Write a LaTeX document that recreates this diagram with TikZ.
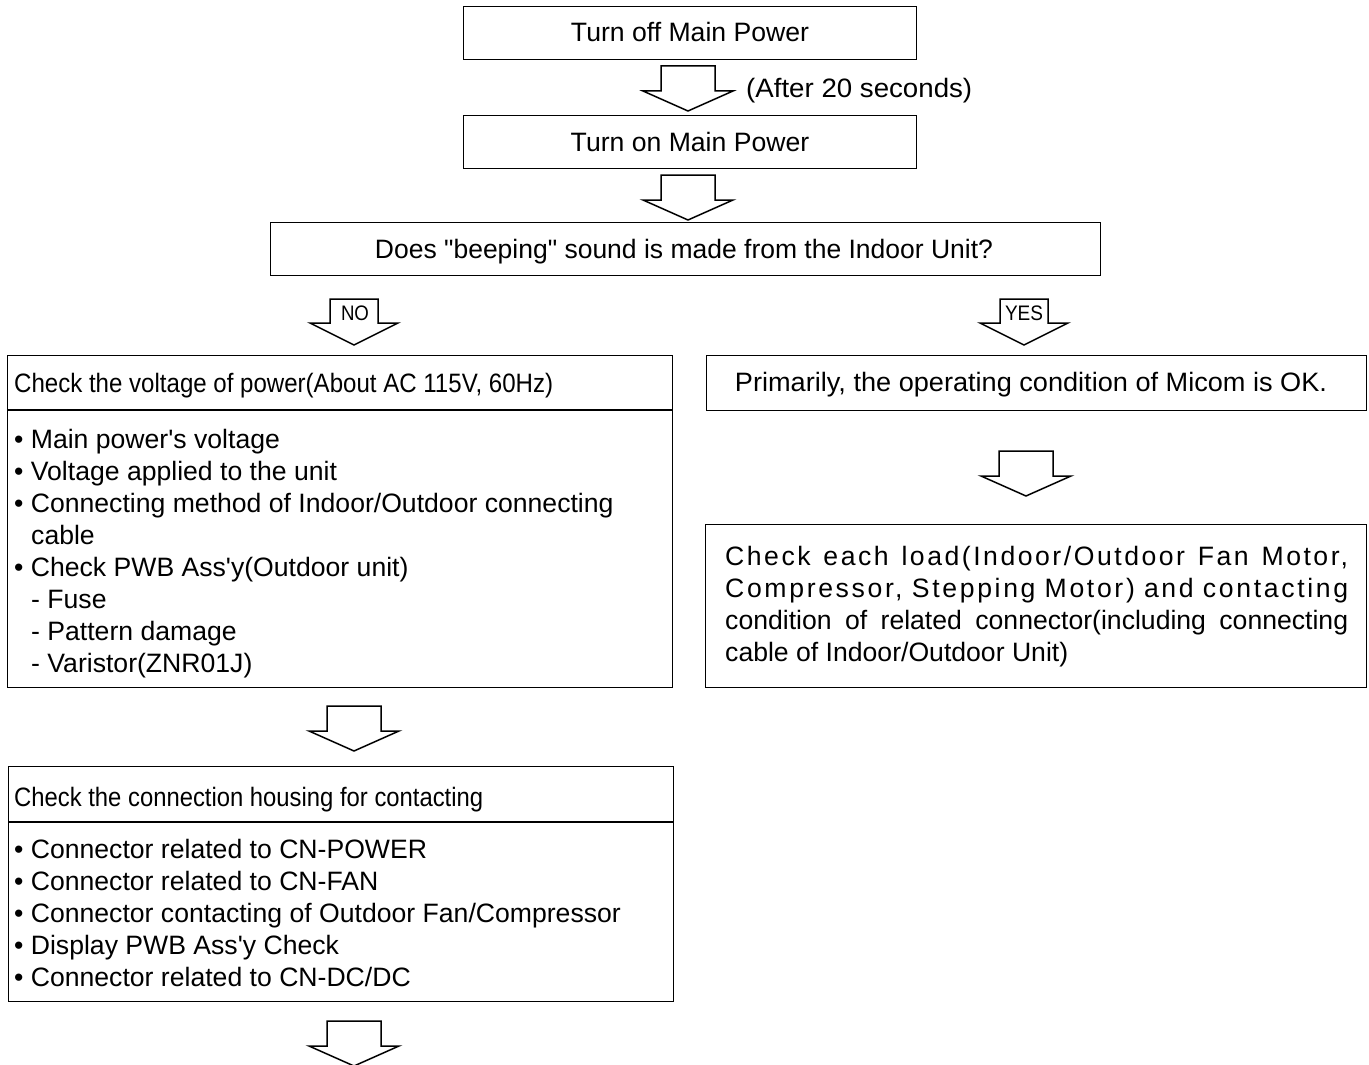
\documentclass[tikz,border=0pt]{standalone}
\usepackage{fontspec}
\setmainfont{Liberation Sans}
\usepackage{graphicx}
\newcommand\ap{\textquotesingle}
\newcommand\fitw[2]{\resizebox{#1}{\height}{#2}}
\begin{document}
\begin{tikzpicture}[x=1pt,y=-1pt,
  box/.style={draw, line width=1.2pt, inner sep=0pt, anchor=north west},
  ctxt/.style={anchor=base, inner sep=0pt, font=\fontsize{26.6}{32}\selectfont},
  ltxt/.style={anchor=base west, inner sep=0pt, font=\fontsize{26.6}{32}\selectfont},
  arr/.style={draw, line width=1.5pt, fill=white, line join=miter},
  blockarrow/.pic={\draw[arr] (-27,0) -- (27,0) -- (27,25) -- (45,25) -- (0,45) -- (-45,25) -- (-27,25) -- cycle;},
  slimarrow/.pic={\draw[arr] (-24,0) -- (24,0) -- (24,24) -- (44,24) -- (0,46) -- (-44,24) -- (-24,24) -- cycle;},
  tag/.style={inner sep=0pt, font=\fontsize{21}{22}\selectfont}]
\useasboundingbox (0,0) rectangle (1369,1065);
\begin{scope}
\clip (0,0) rectangle (1369,1065);
% boxes
\node[box, minimum width=453pt, minimum height=53pt] (b1) at (463,6) {};
\node[box, minimum width=453pt, minimum height=53pt] (b2) at (463,115) {};
\node[box, minimum width=830pt, minimum height=53pt] (b3) at (270,222) {};
\node[box, minimum width=665pt, minimum height=332pt] (b4) at (7,355) {};
\node[box, minimum width=660pt, minimum height=55pt] (b5) at (706,355) {};
\node[box, minimum width=661pt, minimum height=163pt] (b6) at (705,524) {};
\node[box, minimum width=665pt, minimum height=235pt] (b7) at (8,766) {};
\draw[line width=1.2pt] (b4.west |- 0,410) -- (b4.east |- 0,410);
\draw[line width=1.2pt] (b7.west |- 0,822) -- (b7.east |- 0,822);
% arrows
\pic at (688,66) {blockarrow};
\pic at (688,175) {blockarrow};
\pic at (354,299) {slimarrow};
\pic at (1024,299) {slimarrow};
\pic at (1026,451) {blockarrow};
\pic at (354,706) {blockarrow};
\pic at (354,1021) {blockarrow};
\node[tag] (no) at (355,313) {\fitw{28pt}{NO}};
\node[tag] (yes) at (1024,313) {\fitw{38pt}{YES}};
% texts
\node[ctxt] (t1) at (690,42) {Turn off Main Power};
\node[ltxt] (t1a) at (746,97) {\fitw{226pt}{(After 20 seconds)}};
\node[ctxt] (t2) at (690,151) {Turn on Main Power};
\node[ctxt] (t3) at (684,258) {\fitw{618pt}{Does \textquotedbl beeping\textquotedbl{} sound is made from the Indoor Unit?}};
\node[ltxt] (h4) at (14,392) {\fitw{539pt}{Check the voltage of power(About AC 115V, 60Hz)}};
\node[ltxt] (l1) at (14,448) {• Main power\ap s voltage};
\node[ltxt] (l2) at (14,480) {• Voltage applied to the unit};
\node[ltxt] (l3) at (14,512) {• Connecting method of Indoor/Outdoor connecting};
\node[ltxt] (l4) at (31,544) {cable};
\node[ltxt] (l5) at (14,576) {• Check PWB Ass\ap y(Outdoor unit)};
\node[ltxt] (l6) at (31,608) {- Fuse};
\node[ltxt] (l7) at (31,640) {- Pattern damage};
\node[ltxt] (l8) at (31,672) {- Varistor(ZNR01J)};
\node[ctxt] (t5) at (1031,391) {\fitw{592pt}{Primarily, the operating condition of Micom is OK.}};
\node[ltxt] (r1) at (725,565) {\makebox[623pt][s]{\addfontfeatures{LetterSpace=9.5}Check each load(Indoor/Outdoor Fan Motor,}};
\node[ltxt] (r2) at (725,597) {\makebox[623pt][s]{\addfontfeatures{LetterSpace=10}Compressor, Stepping Motor) and contacting}};
\node[ltxt] (r3) at (725,629) {\makebox[623pt][s]{condition of related connector(including connecting}};
\node[ltxt] (r4) at (725,661) {cable of Indoor/Outdoor Unit)};
\node[ltxt] (h7) at (14,806) {\fitw{469pt}{Check the connection housing for contacting}};
\node[ltxt] (m1) at (14,858) {• Connector related to CN-POWER};
\node[ltxt] (m2) at (14,890) {• Connector related to CN-FAN};
\node[ltxt] (m3) at (14,922) {• Connector contacting of Outdoor Fan/Compressor};
\node[ltxt] (m4) at (14,954) {• Display PWB Ass\ap y Check};
\node[ltxt] (m5) at (14,986) {• Connector related to CN-DC/DC};
\end{scope}
\end{tikzpicture}
\end{document}
